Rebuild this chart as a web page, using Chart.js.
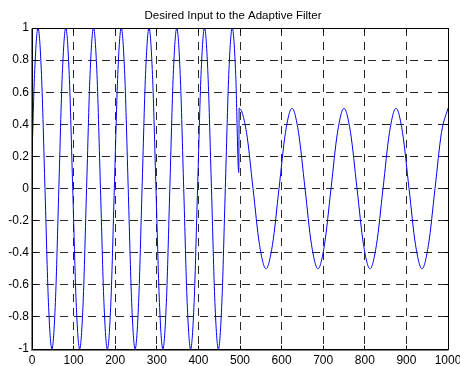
<!DOCTYPE html>
<html><head><meta charset="utf-8">
<script src="https://cdn.jsdelivr.net/npm/chart.js@4"></script>
<style>html,body{margin:0;padding:0;background:#fff}canvas{display:block}</style>
</head><body>
<canvas id="c" width="460" height="366"></canvas>
<script>
const titleText = 'Desired Input to the Adaptive Filter';
const xTickLabels = ['0','100','200','300','400','500','600','700','800','900','1000'];
const yTickLabels = ['-1','-0.8','-0.6','-0.4','-0.2','0','0.2','0.4','0.6','0.8','1'];

// samples (sample index, amplitude)
const xValues = [
  0, 6.1, 14.5, 22.8, 31.2, 39.5, 47.8, 56.2,
  64.5, 72.8, 81.2, 89.5, 97.9, 106.2, 114.5, 122.9,
  131.2, 139.5, 147.9, 156.2, 164.6, 172.9, 181.2, 189.6,
  197.9, 206.2, 214.6, 222.9, 231.3, 239.6, 247.9, 256.3,
  264.6, 272.9, 281.3, 289.6, 298, 306.3, 314.6, 323,
  331.3, 339.6, 348, 356.3, 364.7, 373, 381.3, 389.7,
  398, 406.3, 414.7, 423, 431.4, 439.7, 448, 456.4,
  464.7, 473, 481.4, 489.7, 497,
  498, 515.6, 531.3, 546.9, 562.5, 578.1, 593.8, 609.4,
  625, 640.6, 656.3, 671.9, 687.5, 703.1, 718.8, 734.4,
  750, 765.6, 781.3, 796.9, 812.5, 828.1, 843.8, 859.4,
  875, 890.6, 906.3, 921.9, 937.5, 953.1, 968.8, 984.4,
  1000
];
const yValues = [
  0.2, 0.71, 1, 0.71, 0, -0.71, -1, -0.71,
  0, 0.71, 1, 0.71, 0, -0.71, -1, -0.71,
  0, 0.71, 1, 0.71, 0, -0.71, -1, -0.71,
  0, 0.71, 1, 0.71, 0, -0.71, -1, -0.71,
  0, 0.71, 1, 0.71, 0, -0.71, -1, -0.71,
  0, 0.71, 1, 0.71, 0, -0.71, -1, -0.71,
  0, 0.71, 1, 0.71, 0, -0.71, -1, -0.71,
  0, 0.71, 1, 0.71, 0.1,
  0.5, 0.35, 0, -0.35, -0.5, -0.35, 0, 0.35,
  0.5, 0.35, 0, -0.35, -0.5, -0.35, 0, 0.35,
  0.5, 0.35, 0, -0.35, -0.5, -0.35, 0, 0.35,
  0.5, 0.35, 0, -0.35, -0.5, -0.35, 0, 0.35,
  0.5
];

const points = xValues.map((x, i) => ({ x: x, y: yValues[i] }));
const FONT = '"Liberation Sans", Arial, sans-serif';
const align = p => Math.round(p - 0.5) + 0.5;

const matlabAxes = {
  id: 'matlabAxes',
  afterDraw(chart) {
    const { ctx, chartArea: a, scales } = chart;
    const xs = scales.x, ys = scales.y;
    const L = align(a.left), R = align(a.right), T = align(a.top), B = align(a.bottom);
    ctx.save();
    ctx.strokeStyle = '#000';
    ctx.lineWidth = 1;
    ctx.setLineDash([]);
    ctx.beginPath();
    xs.ticks.forEach(t => {
      const px = align(xs.getPixelForValue(t.value));
      ctx.moveTo(px, B); ctx.lineTo(px, B - 4);
      ctx.moveTo(px, T); ctx.lineTo(px, T + 4);
    });
    ys.ticks.forEach(t => {
      const py = align(ys.getPixelForValue(t.value));
      ctx.moveTo(L, py); ctx.lineTo(L + 4, py);
      ctx.moveTo(R, py); ctx.lineTo(R - 4, py);
    });
    ctx.stroke();
    ctx.strokeRect(L, T, R - L, B - T);
    // slightly heavier left and bottom spines, as in the reference
    ctx.beginPath();
    ctx.moveTo(L - 1, T); ctx.lineTo(L - 1, B + 1);
    ctx.moveTo(L - 1, B + 1); ctx.lineTo(R, B + 1);
    ctx.strokeStyle = 'rgba(0,0,0,0.5)';
    ctx.stroke();
    ctx.fillStyle = '#000';
    ctx.font = '11.5px ' + FONT;
    ctx.textAlign = 'center';
    ctx.textBaseline = 'alphabetic';
    ctx.fillText(titleText, (a.left + a.right) / 2 - 7, 19);
    ctx.restore();
  }
};

new Chart(document.getElementById('c'), {
  type: 'line',
  data: {
    datasets: [{
      data: points,
      borderColor: '#0000ff',
      borderWidth: 1,
      pointRadius: 0,
      fill: false,
      cubicInterpolationMode: 'monotone'
    }]
  },
  options: {
    responsive: false,
    animation: false,
    events: [],
    layout: { padding: { top: 28, right: 12, left: 0, bottom: 0 } },
    plugins: { legend: { display: false }, title: { display: false }, tooltip: { enabled: false } },
    scales: {
      x: {
        type: 'linear', min: 0, max: 1000,
        afterBuildTicks: s => { s.ticks = xTickLabels.map(v => ({ value: Number(v) })); },
        afterFit: s => { s.height = 17; s.paddingLeft = 0; s.paddingRight = 0; },
        ticks: { callback: (v, i) => xTickLabels[i], autoSkip: false, maxRotation: 0, padding: 4, color: '#000', font: { family: FONT, size: 12 } },
        grid: { color: '#2a2a2a', lineWidth: 1, drawTicks: false },
        border: { display: false, dash: [8, 6] }
      },
      y: {
        type: 'linear', min: -1, max: 1,
        afterBuildTicks: s => { s.ticks = yTickLabels.map(v => ({ value: Number(v) })); },
        afterFit: s => { s.width = 32; s.paddingTop = 0; s.paddingBottom = 0; },
        ticks: { callback: (v, i) => yTickLabels[i], padding: 3, color: '#000', font: { family: FONT, size: 12 } },
        grid: { color: '#2a2a2a', lineWidth: 1, drawTicks: false },
        border: { display: false, dash: [8, 6] }
      }
    }
  },
  plugins: [matlabAxes]
});
</script>
</body></html>
